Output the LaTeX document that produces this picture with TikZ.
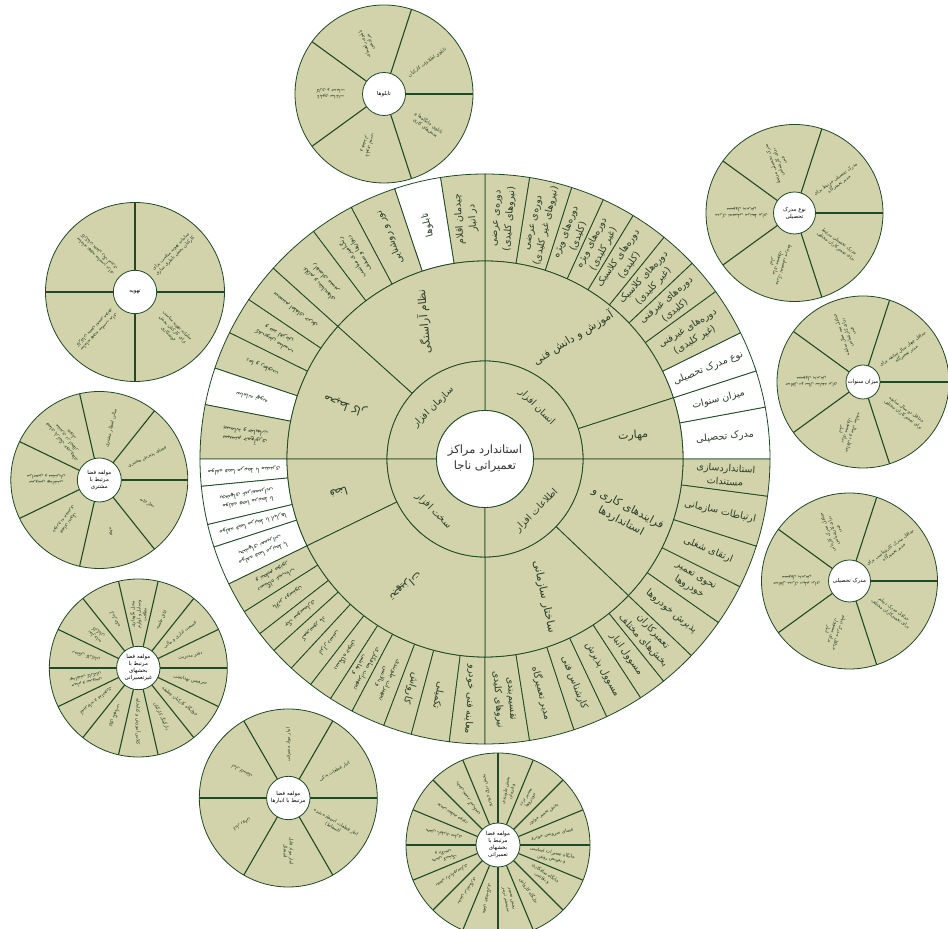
\documentclass[tikz,border=0pt]{standalone}
\usepackage{fontspec}
\usepackage{tikz}
\usetikzlibrary{calc}
\TeXXeTstate=1
\newfontfamily\farsi[Script=Arabic]{DejaVu Sans}
\newcommand\fa[1]{{\farsi\beginR #1\endR}}
\definecolor{RingTan}{HTML}{D2D3AA}
\definecolor{RingLine}{HTML}{1E4A26}
\definecolor{RingText}{HTML}{2A3F2A}

% one cell of a ring: start angle, end angle, inner radius, outer radius, fill
\newcommand\ringcell[5]{%
  \filldraw[ringline,fill=#5] (#1:#3) arc[start angle=#1,end angle=#2,radius=#3]
    -- (#2:#4) arc[start angle=#2,end angle=#1,radius=#4] -- cycle;}

% small pie with a white hub: name, centre, R, r, sectors, hub text, labels
\newcommand\satcircle[7]{%
  \begin{scope}[shift={#2}]
    \filldraw[ringline,fill=RingTan] (0,0) circle[radius=#3];
    \foreach \k in {1,...,#5}
      \draw[satline] (0,0) -- ({(\k-1)*360/#5}:#3);
    \foreach \lab [count=\k] in {#7}
      \node[sattxt,rotate={(\k-0.5)*360/#5}] (#1-\k) at ({(\k-0.5)*360/#5}:{0.6*#3}) {\lab};
    \filldraw[ringline,fill=white] (0,0) circle[radius=#4];
    \node[hubtxt] (#1) at (0,0) {#6};
  \end{scope}}

\begin{document}
\begin{tikzpicture}[x=1pt,y=1pt]
\tikzstyle{ringline}=[draw=RingLine,line width=0.8pt]
\tikzstyle{satline}=[draw=RingLine,line width=1.1pt]
\tikzstyle{outtxt}=[text=RingText,font=\fontsize{9.6}{13.5}\selectfont,align=center,inner sep=1pt]
\tikzstyle{outsmall}=[text=RingText,font=\fontsize{6.3}{8.6}\selectfont,align=center,inner sep=1pt]
\tikzstyle{midtxt}=[text=RingText,font=\fontsize{11}{15}\selectfont,align=center]
\tikzstyle{innertxt}=[text=RingText,font=\fontsize{9.5}{12}\selectfont,align=center]
\tikzstyle{sattxt}=[text=RingText,font=\fontsize{4.7}{6}\selectfont,align=center,inner sep=0.5pt]
\tikzstyle{hubtxt}=[text=black,font=\fontsize{5.5}{7}\selectfont,align=center,inner sep=0pt]
\useasboundingbox (0,0) rectangle (948,929);
\clip (0,0) rectangle (948,929);

% main sunburst
\begin{scope}[shift={(485,470)}]
  % outer ring
  \foreach \a/\b/\fc/\sty/\txt in {
    0/10.5/white/outtxt/{\fa{مدرک تحصیلی}},
    10.5/18/white/outtxt/{\fa{میزان سنوات}},
    18/26.3/white/outtxt/{\fa{نوع مدرک تحصیلی}},
    26.3/36/RingTan/outtxt/{\fa{دوره‌های غیرفنی}\\\fa{(غیر کلیدی)}},
    36/43.4/RingTan/outtxt/{\fa{دوره‌های غیرفنی}\\\fa{(کلیدی)}},
    43.4/51.1/RingTan/outtxt/{\fa{دوره‌های کلاسیک}\\\fa{(غیر کلیدی)}},
    51.1/58.7/RingTan/outtxt/{\fa{دوره‌های کلاسیک}\\\fa{(کلیدی)}},
    58.7/65.5/RingTan/outtxt/{\fa{دوره‌های ویژه}\\\fa{(غیر کلیدی)}},
    65.5/72.3/RingTan/outtxt/{\fa{دوره‌های ویژه}\\\fa{(کلیدی)}},
    72.3/81/RingTan/outtxt/{\fa{دوره‌ی عرضی}\\\fa{(نیروهای غیر کلیدی)}},
    81/90/RingTan/outtxt/{\fa{دوره‌ی عرضی}\\\fa{(نیروهای کلیدی)}},
    90/99/RingTan/outtxt/{\fa{چیدمان اقلام}\\\fa{در انبار}},
    99/108.5/white/outtxt/{\fa{تابلوها}},
    108.5/118/RingTan/outtxt/{\fa{نور و روشنایی}},
    118/127/RingTan/outsmall/{\fa{رنگ‌آمیزی مناسب}\\\fa{دیوارها و سقف}},
    127/138/RingTan/outsmall/{\fa{علائم و نشانه‌های}\\\fa{راهنمای مسیر}},
    138/146/RingTan/outsmall/{\fa{سیستم اطفای حریق}},
    146/153.7/RingTan/outsmall/{\fa{کف‌پوش مناسب}\\\fa{و ضد لغزش}},
    153.7/161.4/RingTan/outsmall/{\fa{دما و رطوبت}},
    161.4/169/white/outsmall/{\fa{سامانه تهویه}},
    169/180/RingTan/outsmall/{\fa{سیستم جمع‌آوری}\\\fa{پسماند و ضایعات}},
    180/185.5/white/outsmall/{\fa{مولفه فضا مرتبط با مشتری}},
    185.5/193.3/white/outsmall/{\fa{مولفه فضا مرتبط با}\\\fa{بخشهای غیرتعمیراتی}},
    193.3/198/white/outsmall/{\fa{مولفه فضا مرتبط با انبارها}},
    198/206/white/outsmall/{\fa{مولفه فضا مرتبط با}\\\fa{بخشهای تعمیراتی}},
    206/212.4/RingTan/outsmall/{\fa{دستگاه عیب‌یاب}\\\fa{و تنظیم موتور}},
    212.4/217.8/RingTan/outsmall/{\fa{بالابر دوستون}},
    217.8/222.2/RingTan/outsmall/{\fa{جک سوسماری}},
    222.2/227.2/RingTan/outsmall/{\fa{کمپرسور باد}},
    227.2/232.3/RingTan/outsmall/{\fa{ابزار دستی}},
    232.3/237.2/RingTan/outsmall/{\fa{دستگاه جوش}},
    237.2/242.2/RingTan/outsmall/{\fa{تجهیزات صافکاری}\\\fa{و نقاشی}},
    242.2/249.2/RingTan/outsmall/{\fa{تجهیزات جلوبندی}\\\fa{و بالانس}},
    249.2/255/RingTan/outtxt/{\fa{کارواش}},
    255/262.8/RingTan/outtxt/{\fa{تکمیلی}},
    262.8/270/RingTan/outtxt/{\fa{معاینه فنی خودرو}},
    270/279/RingTan/outtxt/{\fa{تقسیم‌بندی}\\\fa{نیروهای کلیدی}},
    279/288.2/RingTan/outtxt/{\fa{مدیر تعمیرگاه}},
    288.2/295.3/RingTan/outtxt/{\fa{کارشناس فنی}},
    295.3/303.1/RingTan/outtxt/{\fa{مسوول پذیرش}},
    303.1/308.8/RingTan/outtxt/{\fa{مسوول انبار}},
    308.8/316.4/RingTan/outtxt/{\fa{تعمیرکاران}\\\fa{بخش‌های مختلف}},
    316.4/325/RingTan/outtxt/{\fa{پذیرش خودروها}},
    325/333.4/RingTan/outtxt/{\fa{نحوی تعمیر}\\\fa{خودروها}},
    333.4/342.2/RingTan/outtxt/{\fa{ارتقای شغلی}},
    342.2/352.5/RingTan/outtxt/{\fa{ارتباطات سازمانی}},
    352.5/360/RingTan/outtxt/{\fa{استانداردسازی}\\\fa{مستندات}}}
  {
    \ringcell{\a}{\b}{198}{285}{\fc}
    \node[\sty,rotate={(\a+\b)/2}] (out-\a) at ({(\a+\b)/2}:241) {\txt};
  }
  % middle ring
  \foreach \a/\b/\rot/\txt in {
    18/90/32/{\fa{آموزش و دانش فنی}},
    0/18/3/{\fa{مهارت}},
    316.4/360/-28/{\fa{فرایندهای کاری و}\\\fa{استانداردها}},
    270/316.4/-78/{\fa{ساختار سازمانی}},
    90/138/95/{\fa{نظام آراستگی}},
    138/180/161/{\fa{محیط کار}},
    180/206/196/{\fa{فضا}},
    206/270/220/{\fa{تجهیزات}}}
  {
    \ringcell{\a}{\b}{98}{198}{RingTan}
    \node[midtxt,rotate=\rot] (mid-\a) at ({(\a+\b)/2}:150) {\txt};
  }
  % inner ring
  \foreach \a/\rot/\txt in {0/-45/انسان افزار, 90/45/سازمان افزار,
      180/-45/سخت افزار, 270/45/اطلاعات افزار}
  {
    \ringcell{\a}{\a+90}{48.5}{98}{RingTan}
    \node[innertxt,rotate=\rot] (in-\a) at (\a+45:73) {\fa{\txt}};
  }
  \filldraw[ringline,fill=white] (0,0) circle[radius=48.5];
  \node[text=black!80,font=\fontsize{11.5}{16}\selectfont,align=center] (hub)
    at (0,0) {\fa{استاندارد مراکز}\\\fa{تعمیراتی ناجا}};
\end{scope}

% satellite pies
\satcircle{boards}{(384,835)}{89}{21.5}{5}{\fa{تابلوها}}{
  {\fa{تابلوی اطلاعات کارکنان}},
  {\fa{تابلوی راهنمای}\\\fa{مراجعین}},
  {\fa{تابلوی ساعات}\\\fa{کاری و خدمات}},
  {\fa{تابلوی ایمنی}\\\fa{و هشدار}},
  {\fa{تابلوی جایگاه‌ها و}\\\fa{بخش‌های کاری}}}

\satcircle{degtype}{(794.5,716)}{88.5}{21}{5}{\fa{نوع مدرک}\\\fa{تحصیلی}}{
  {\fa{مدرک تحصیلی مرتبط برای}\\\fa{مدیر تعمیرگاه}},
  {\fa{مدرک تحصیلی مرتبط}\\\fa{برای کارشناس}\\\fa{فنی}},
  {\fa{مدرک تحصیلی مرتبط برای}\\\fa{مسوول پذیرش}},
  {\fa{مدرک تحصیلی مرتبط}\\\fa{برای مسوول}\\\fa{انبار}},
  {\fa{مدرک تحصیلی مرتبط}\\\fa{برای تعمیرکاران مختلف}}}

\satcircle{years}{(863,547)}{86}{17}{5}{\fa{میزان سنوات}}{
  {\fa{حداقل چهار سال سابقه برای}\\\fa{مدیر تعمیرگاه}},
  {\fa{حداقل سه سال سابقه}\\\fa{برای کارشناس}\\\fa{فنی}},
  {\fa{حداقل دو سال سابقه برای}\\\fa{مسوول پذیرش}},
  {\fa{حداقل دو سال سابقه}\\\fa{برای مسوول}\\\fa{انبار}},
  {\fa{حداقل دو سال سابقه}\\\fa{برای تعمیرکاران مختلف}}}

\satcircle{degree}{(849.5,348)}{88}{21}{5}{\fa{مدرک تحصیلی}}{
  {\fa{حداقل مدرک کارشناسی برای}\\\fa{مدیر تعمیرگاه}},
  {\fa{حداقل مدرک کاردانی}\\\fa{برای کارشناس}\\\fa{فنی}},
  {\fa{حداقل مدرک دیپلم برای}\\\fa{مسوول پذیرش}},
  {\fa{حداقل مدرک دیپلم}\\\fa{برای مسوول}\\\fa{انبار}},
  {\fa{حداقل مدرک دیپلم}\\\fa{برای تعمیرکاران مختلف}}}

\satcircle{vent}{(135,637)}{89.5}{21.7}{4}{\fa{تهویه}}{
  {\fa{سامانه تهویه مناسب برای}\\\fa{کارکنان بخش باطری سازی}},
  {\fa{سامانه تهویه مناسب برای}\\\fa{کارکنان بخش رنگ آمیزی}},
  {\fa{سامانه تهویه مناسب برای}\\\fa{کارکنان بخش تعمیر موتور}},
  {\fa{سامانه تهویه مناسب}\\\fa{برای کارکنان بخش}\\\fa{جوشکاری}}}

\satcircle{client}{(99.3,449)}{88.5}{22}{7}{\fa{مولفه فضا}\\\fa{مرتبط با}\\\fa{مشتری}}{
  {\fa{فضای پذیرش مشتری}},
  {\fa{سالن انتظار مشتری}},
  {\fa{فضای پارکینگ خودروهای}\\\fa{مشتری در انتظار}\\\fa{تحویل}},
  {\fa{سرویس بهداشتی}\\\fa{مراجعین و مشتریان}},
  {\fa{فضای تحویل}\\\fa{خودرو به مشتری}},
  {\fa{بوفه}},
  {\fa{نمازخانه}}}

\satcircle{nonrep}{(138.3,261)}{89}{21.7}{14}{\fa{مولفه فضا}\\\fa{مرتبط با}\\\fa{بخشهای}\\\fa{غیرتعمیراتی}}{
  {\fa{دفتر مدیریت}},
  {\fa{قسمت اداری و مالی}},
  {\fa{اتاق جلسه}},
  {\fa{محل نگهداری}\\\fa{وسایل و لوازم}\\\fa{نظافت}},
  {\fa{آبدارخانه}},
  {\fa{نمازخانه}\\\fa{کارکنان}},
  {\fa{رختکن کارکنان}},
  {\fa{حمام و سرویس}\\\fa{بهداشتی کارکنان}},
  {\fa{آشپزخانه و غذاخوری}},
  {\fa{اتاق نگهبانی}},
  {\fa{کلاس آموزش و کتابخانه}},
  {\fa{پارکینگ کارکنان}},
  {\fa{خوابگاه کارکنان وظیفه}},
  {\fa{سرویس بهداشتی}}}

\satcircle{stores}{(288.3,131)}{89}{21.7}{6}{\fa{مولفه فضا}\\\fa{مرتبط با انبارها}}{
  {\fa{انبار قطعات یدکی}},
  {\fa{انبار مواد مصرفی}},
  {\fa{انبار لاستیک}},
  {\fa{انبار روغن}},
  {\fa{انبار مواد قابل}\\\fa{اشتعال}},
  {\fa{انبار قطعات استفاده شده}\\\fa{(اسقاط)}}}

\satcircle{repair}{(498,84)}{92}{22}{16}{\fa{مولفه فضا}\\\fa{مرتبط با}\\\fa{بخشهای}\\\fa{تعمیراتی}}{
  {\fa{فضای سرویس خودرو}},
  {\fa{بخش تعمیر موتور}},
  {\fa{مسیر تردد}\\\fa{خودروها}},
  {\fa{بخش جلوبندی}\\\fa{و فرمان}},
  {\fa{بخش برق خودرو}},
  {\fa{بخش تعمیر گیربکس}},
  {\fa{بخش تنظیم موتور}},
  {\fa{بخش باطری سازی}},
  {\fa{بخش لاستیک}\\\fa{و بالانس}},
  {\fa{بخش رادیاتورسازی}},
  {\fa{بخش تراشکاری}},
  {\fa{بخش جوشکاری}},
  {\fa{بخش تعمیر}\\\fa{سیستم ترمز}},
  {\fa{جایگاه کارواش}},
  {\fa{جایگاه صافکاری}\\\fa{و نقاشی}},
  {\fa{جایگاه تعمیرات اساسی}\\\fa{و تعویض روغن}}}
\end{tikzpicture}
\end{document}
